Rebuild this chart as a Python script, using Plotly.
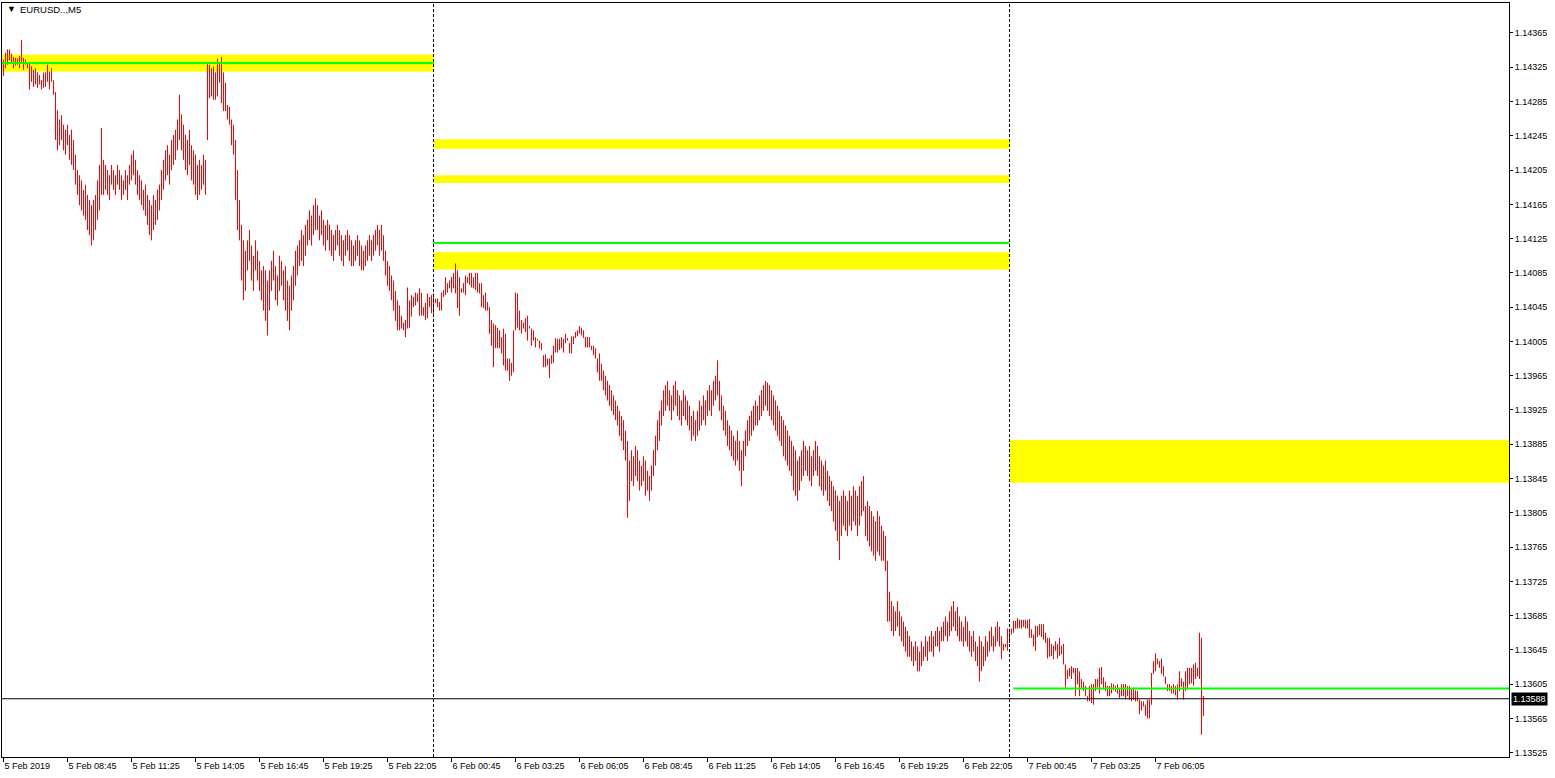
import plotly.graph_objects as go

# ---------------- data ----------------
symbol_title = "EURUSD..,M5"
price_base = 1.13000          # bar values below are in points (1e-5) above this base
point = 0.00001

bar_highs = [
    1334,1342,1346,1346,1341,1337,1336,1335,1338,1357,1336,1334,1331,1329,1326,1322,1324,1319,1316,1310,1319,1319,1328,1320,1324,1310,
    1296,1275,1264,1269,1258,1252,1258,1246,1252,1240,
    1223,1205,1199,1193,1182,1188,1176,1170,1164,1170,1176,1193,1211,1254,1217,
    1211,1205,1199,1211,1205,1199,1211,1205,1199,1193,1205,1199,1211,1223,1228,1217,1205,
    1199,1193,1182,1188,1176,1170,1164,1176,1170,1182,1188,
    1205,1217,1228,1234,1223,1240,1246,1252,1264,1293,
    1270,1258,1246,1240,1252,1234,1228,1223,1211,1217,1211,1223,1217,
    1330,1328,1324,1326,1319,1335,1331,1337,1319,1307,1281,1279,1264,1258,
    1240,1205,1170,1141,1123,1111,1123,1135,1117,1105,1123,1111,1099,1088,1093,1088,1076,
    1088,1099,1111,1093,1082,1105,1099,1088,1093,1076,1070,1082,1093,1111,1117,1123,1135,1129,1141,1147,1158,1152,1164,1172,1164,1152,1158,1147,1141,1147,
    1141,1135,1129,1135,1141,1135,1129,1123,1129,1135,1129,1123,1117,1123,1129,1123,1117,1111,1117,1123,1129,1123,1129,1135,1141,1135,1141,1129,
    1111,1099,1093,1082,1076,1064,1053,1047,
    1035,1027,1030,1068,1053,1059,1057,1062,1061,1067,
    1062,1045,1050,1061,1057,1059,1061,1055,1055,1051,
    1062,1065,1080,1073,1076,1080,1085,1096,1088,1080,
    1067,1073,1082,1080,1085,1085,1080,1085,1085,1073,
    1073,1059,1062,1051,1045,1030,1026,1024,1021,1018,
    1010,1020,1014,985,985,980,1018,1062,1061,1041,
    1030,1027,1032,1035,1023,1020,1018,1010,1008,1006,
    1003,989,990,985,985,989,1000,1009,1008,1008,
    1010,1008,1014,1009,1003,1011,1011,1016,1018,1023,
    1021,1018,1010,1010,1010,1000,1000,997,985,991,
    979,
    971,965,959,954,948,942,936,930,924,918,
    913,901,889,866,878,871,883,878,866,860,
    871,866,854,848,860,878,895,913,924,936,
    948,954,959,
    948,942,954,959,948,942,936,948,942,936,
    930,918,924,913,924,936,930,942,936,948,
    954,948,959,965,983,959,942,930,924,913,
    907,901,895,889,901,889,878,
    889,901,913,918,924,930,936,930,942,948,
    954,959,957,954,948,942,936,930,924,918,
    913,907,901,895,889,883,878,866,871,878,
    889,883,878,883,871,878,889,883,871,866,
    860,866,854,
    848,842,836,831,825,819,825,831,825,819,
    831,825,836,831,825,836,842,848,813,819,
    813,807,801,795,807,801,790,784,778,
    749,
    713,702,696,690,702,690,684,678,672,667,
    661,655,649,655,649,643,655,649,661,655,
    661,667,661,667,672,667,672,678,684,678,
    690,696,702,690,695,684,678,672,684,678,
    667,661,667,655,649,661,655,649,661,655,
    667,672,661,672,678,672,
    661,652,652,670,670,670,679,679,682,680,
    680,680,680,680,681,669,663,673,673,675,
    675,675,665,659,659,652,650,655,652,659,
    650,652,628,622,624,626,624,624,624,620,
    611,608,603,591,603,605,605,611,611,624,
    625,613,608,603,603,606,605,603,605,600,
    605,605,605,603,603,600,601,598,597,587,
    585,585,581,587,587,618,632,641,635,632,
    635,626,614,605,605,603,605,603,605,620,
    612,608,620,624,624,624,628,630,624,665,
    659,591,
]

bar_lows = [
    1315,1324,1328,1333,1329,1324,1327,1328,1324,1330,1322,1328,1324,1299,1308,1302,1305,1301,1305,1299,1301,1302,1308,1299,1308,1293,
    1240,1228,1234,1240,1228,1223,1234,1217,1211,1205,
    1188,1176,1164,1158,1152,1147,1135,1129,1117,1123,1135,1147,1158,1176,1176,
    1182,1176,1170,1188,1182,1176,1188,1182,1170,1176,1182,1170,1188,1193,1199,1188,1176,
    1170,1164,1158,1152,1141,1129,1123,1135,1141,1147,1158,
    1170,1182,1193,1199,1188,1205,1211,1217,1228,1240,
    1228,1217,1205,1199,1211,1193,1188,1176,1170,1176,1182,1188,1176,
    1240,1289,1291,1287,1287,1291,1307,1283,1274,1274,1264,1258,1234,1223,
    1170,1135,1123,1076,1053,1064,1088,1099,1076,1064,1088,1076,1064,1053,1041,1029,1012,
    1041,1064,1076,1053,1047,1064,1070,1053,1041,1029,1018,1041,1053,1070,1082,1093,1099,1093,1105,1117,1123,1117,1129,1135,1135,1123,1129,1117,1111,1123,
    1111,1105,1099,1111,1117,1105,1099,1093,1105,1111,1099,1093,1093,1099,1105,1093,1088,1088,1093,1099,1105,1099,1105,1111,1117,1105,1111,1099,
    1082,1070,1064,1053,1041,1029,1018,1018,
    1020,1018,1010,1020,1021,1034,1045,1047,1051,1035,
    1035,1035,1030,1032,1045,1038,1033,1050,1045,1041,
    1041,1057,1059,1062,1067,1062,1067,1061,1044,1035,
    1062,1062,1059,1073,1071,1068,1067,1065,1062,1061,
    1045,1044,1041,1041,1014,1000,975,997,997,997,
    991,977,971,971,959,965,969,1018,1021,1018,
    1014,1020,1016,1006,1020,1000,1006,998,1006,997,
    995,975,975,977,962,979,980,992,992,995,
    997,992,1003,1006,991,991,1002,1009,1011,1014,
    1012,1009,998,998,998,995,989,985,969,959,
    959,
    948,942,936,930,924,919,913,907,895,889,
    878,866,799,819,842,836,848,842,831,836,
    842,825,831,819,831,848,860,878,889,907,
    918,924,930,
    924,913,924,930,918,913,907,918,913,907,
    901,889,895,889,895,901,907,913,907,918,
    924,918,930,936,942,924,913,901,895,883,
    878,871,866,860,866,854,836,
    854,871,883,889,895,901,907,907,913,918,
    924,930,924,918,913,907,901,895,889,883,
    871,866,860,854,848,831,825,819,831,842,
    848,854,848,842,836,848,854,848,836,831,
    825,831,819,
    813,807,795,784,772,750,778,790,784,778,
    790,784,795,790,778,790,801,807,778,772,
    766,760,755,749,760,755,749,749,737,
    678,
    678,667,661,667,672,661,655,649,643,637,
    637,632,626,632,620,620,626,632,637,632,
    643,643,637,649,649,643,655,655,661,655,
    661,667,672,667,661,655,655,649,655,649,
    643,637,643,632,626,608,620,626,632,637,
    643,649,643,649,655,649,
    634,644,648,644,653,663,665,670,670,670,
    670,672,670,670,659,659,649,644,660,662,
    660,657,653,635,637,638,634,644,635,638,
    640,628,601,611,614,611,618,591,605,591,
    599,597,591,585,585,583,581,597,601,594,
    605,599,597,591,591,594,598,596,594,589,
    591,591,587,591,587,585,587,585,585,570,
    574,579,568,565,565,581,617,620,628,624,
    617,614,605,597,597,594,594,592,587,597,
    602,587,597,599,605,606,603,611,614,611,
    546,568,
]

# time axis: one label every 32 five-minute bars, first bar 5 Feb 2019 06:05
time_label_bars = [0, 32, 64, 96, 128, 160, 192, 224, 256, 288, 320, 352, 384, 416, 448, 480, 512, 544, 576]
time_labels = ["5 Feb 2019", "5 Feb 08:45", "5 Feb 11:25", "5 Feb 14:05", "5 Feb 16:45", "5 Feb 19:25",
               "5 Feb 22:05", "6 Feb 00:45", "6 Feb 03:25", "6 Feb 06:05", "6 Feb 08:45", "6 Feb 11:25",
               "6 Feb 14:05", "6 Feb 16:45", "6 Feb 19:25", "6 Feb 22:05", "7 Feb 00:45", "7 Feb 03:25",
               "7 Feb 06:05"]

price_ticks = [1.13525 + 0.0004 * k for k in range(22)]

day_separator_bars = [215, 503]          # 6 Feb 00:00 and 7 Feb 00:00

# supply/demand zones (yellow) per day: start bar, end bar (None = chart end), low, high
zone_start = [None, 215, 215, 215, 503]
zone_end = [215, 503, 503, 503, None]
zone_low = [1.14320, 1.14230, 1.14190, 1.14089, 1.13840]
zone_high = [1.14340, 1.14241, 1.14199, 1.14109, 1.13890]

# pivot levels (green)
level_start = [None, 215, 505]
level_end = [215, 503, None]
level_price = [1.14330, 1.14120, 1.13600]

last_price = 1.13588

# ---------------- figure ----------------
X_MIN, X_MAX = -0.75, 752.75
Y_MIN, Y_MAX = 1.13520, 1.14400

n = min(len(bar_highs), len(bar_lows))
xs, ys = [], []
for i in range(n):
    xs += [i, i, None]
    ys += [price_base + bar_lows[i] * point, price_base + bar_highs[i] * point, None]

fig = go.Figure()

shapes = []
for s, e, lo, hi in zip(zone_start, zone_end, zone_low, zone_high):
    shapes.append(dict(type="rect", xref="x", yref="y",
                       x0=X_MIN if s is None else s, x1=X_MAX if e is None else e,
                       y0=lo, y1=hi, fillcolor="#FFFF00", line=dict(width=0), layer="below"))

fig.add_trace(go.Scatter(x=xs, y=ys, mode="lines", line=dict(color="#FF0000", width=1),
                         hoverinfo="skip", showlegend=False))

for s, e, p in zip(level_start, level_end, level_price):
    shapes.append(dict(type="line", xref="x", yref="y",
                       x0=X_MIN if s is None else s, x1=X_MAX if e is None else e,
                       y0=p, y1=p, line=dict(color="#00FF00", width=2), layer="above"))

shapes.append(dict(type="line", xref="paper", yref="y", x0=0, x1=1, y0=last_price, y1=last_price,
                   line=dict(color="#000000", width=1), layer="above"))

for b in day_separator_bars:
    shapes.append(dict(type="line", xref="x", yref="paper", x0=b, x1=b, y0=0, y1=1,
                       line=dict(color="#000000", width=1, dash="3px,2px"), layer="above"))

font_family = "Liberation Sans, Arial, sans-serif"

annotations = [
    dict(xref="paper", yref="paper", x=0.002, y=0.992, xanchor="left", yanchor="middle",
         text="▼", showarrow=False, font=dict(family=font_family, size=9, color="#000000")),
    dict(xref="paper", yref="paper", x=0.0105, y=0.992, xanchor="left", yanchor="middle",
         text=symbol_title, showarrow=False, font=dict(family=font_family, size=9.5, color="#000000")),
    dict(xref="paper", yref="y", x=1, y=last_price, xanchor="left", yanchor="middle", xshift=2,
         text=f"{last_price:.5f}", showarrow=False, bgcolor="#000000", borderpad=1,
         font=dict(family=font_family, size=9, color="#FFFFFF")),
]

fig.update_layout(
    width=1555, height=778,
    margin=dict(l=2, r=46, t=3, b=21),
    paper_bgcolor="#FFFFFF", plot_bgcolor="#FFFFFF",
    shapes=shapes, annotations=annotations,
    xaxis=dict(range=[X_MIN, X_MAX], showgrid=False, zeroline=False,
               showline=True, mirror=True, linecolor="#000000", linewidth=1,
               ticks="outside", ticklen=4, tickcolor="#000000", tickwidth=1,
               tickvals=time_label_bars, ticktext=time_labels,
               ticklabelposition="outside right",
               tickfont=dict(family=font_family, size=9, color="#000000")),
    yaxis=dict(range=[Y_MIN, Y_MAX], side="right", showgrid=False, zeroline=False,
               showline=True, mirror=True, linecolor="#000000", linewidth=1,
               ticks="outside", ticklen=3, tickcolor="#000000", tickwidth=1,
               tickvals=price_ticks, ticktext=[f"{v:.5f}" for v in price_ticks],
               tickfont=dict(family=font_family, size=9, color="#000000")),
)

fig.write_html("out.html", config={"displayModeBar": False},
               post_script="document.body.style.margin='0';document.body.style.overflow='hidden';")
